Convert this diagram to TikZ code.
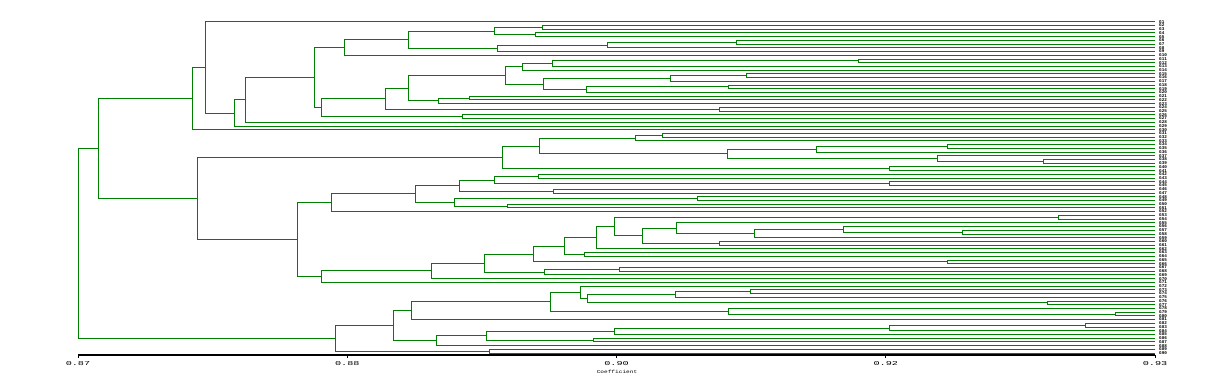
\documentclass[tikz,border=0pt]{standalone}
\usepackage{fontspec}
\setmonofont{Liberation Mono}
\usetikzlibrary{calc}
\definecolor{treegreen}{RGB}{0,128,0}

\tikzset{
  branch/.style={draw=treegreen, line width=0.8pt},
  axisline/.style={draw=black, line width=1.1pt},
  leaflabel/.style={anchor=west, inner sep=0pt, font=\ttfamily\bfseries\fontsize{4.3}{4.3}\selectfont},
  ticklabel/.style={anchor=north, inner sep=0pt, xscale=1.7, font=\ttfamily\fontsize{6}{6}\selectfont}
}

% join two clusters at level #2 (pixel x), name the new cluster #1
\newcommand{\clus}[4]{%
  \path let \p1=(#3), \p2=(#4) in (#2pt, {0.5*\y1+0.5*\y2}) coordinate (#1);
  \draw[branch] (#3) -- (#3 -| #1) -- (#4 -| #1) -- (#4);
}

\begin{document}
\begin{tikzpicture}[x=1pt, y=-1pt]
  \useasboundingbox (0,0) rectangle (1205,385);

  % leaves
  \foreach \i in {0,...,89} {
    \coordinate (l\i) at (1155, 21.7+3.723*\i);
    \node[leaflabel] (n\i) at (1159, 21.7+3.723*\i) {G\the\numexpr\i+1\relax};
  }

  % upper group
  \clus{a1}{542.5}{l1}{l2}
  \clus{a2}{535.5}{l3}{l4}
  \clus{a3}{494.5}{a1}{a2}
  \clus{a4}{736}{l5}{l6}
  \clus{a5}{607}{a4}{l7}
  \clus{a6}{497.5}{a5}{l8}
  \clus{a7}{408.3}{a3}{a6}
  \clus{a8}{344.3}{a7}{l9}
  \clus{a9}{858.3}{l10}{l11}
  \clus{a10}{552.3}{a9}{l12}
  \clus{a11}{522.3}{a10}{l13}
  \clus{a12}{746.7}{l14}{l15}
  \clus{a13}{670.3}{a12}{l16}
  \clus{a14}{728.3}{l17}{l18}
  \clus{a15}{586.7}{a14}{l19}
  \clus{a16}{543.3}{a13}{a15}
  \clus{a17}{505.3}{a11}{a16}
  \clus{a18}{469.3}{l20}{l21}
  \clus{a19}{438.3}{a18}{l22}
  \clus{a20}{408.3}{a17}{a19}
  \clus{a21}{719.5}{l23}{l24}
  \clus{a22}{385.3}{a20}{a21}
  \clus{a23}{462.3}{l25}{l26}
  \clus{a24}{321.3}{a22}{a23}
  \clus{a25}{314}{a8}{a24}
  \clus{a26}{245.3}{a25}{l27}
  \clus{a27}{234}{a26}{l28}
  \clus{a28}{205.3}{l0}{a27}
  \clus{a29}{192.3}{a28}{l29}

  % middle group
  \clus{b1}{662.3}{l30}{l31}
  \clus{b2}{635.3}{b1}{l32}
  \clus{b3}{947.7}{l33}{l34}
  \clus{b4}{816.3}{b3}{l35}
  \clus{b5}{1043.3}{l37}{l38}
  \clus{b6}{937.7}{l36}{b5}
  \clus{b7}{727.7}{b4}{b6}
  \clus{b8}{539.3}{b2}{b7}
  \clus{b9}{889.7}{l39}{l40}
  \clus{b10}{502.3}{b8}{b9}
  \clus{b11}{538.3}{l41}{l42}
  \clus{b12}{889.7}{l43}{l44}
  \clus{b13}{494.7}{b11}{b12}
  \clus{b14}{553.3}{l45}{l46}
  \clus{b15}{459.3}{b13}{b14}
  \clus{b16}{697.7}{l47}{l48}
  \clus{b17}{507.7}{l49}{l50}
  \clus{b18}{454.3}{b16}{b17}
  \clus{b19}{415.3}{b15}{b18}
  \clus{b20}{331.7}{b19}{l51}
  \clus{b21}{1058.7}{l52}{l53}
  \clus{b22}{962.3}{l56}{l57}
  \clus{b23}{843.7}{l55}{b22}
  \clus{b24}{754.7}{b23}{l58}
  \clus{b25}{676}{l54}{b24}
  \clus{b26}{719.7}{l59}{l60}
  \clus{b27}{642.5}{b25}{b26}
  \clus{b28}{614.3}{b21}{b27}
  \clus{b29}{596.3}{b28}{l61}
  \clus{b30}{584.3}{l62}{l63}
  \clus{b31}{564.3}{b29}{b30}
  \clus{b32}{947.7}{l64}{l65}
  \clus{b33}{533.3}{b31}{b32}
  \clus{b34}{619.3}{l66}{l67}
  \clus{b35}{544.3}{b34}{l68}
  \clus{b36}{484.3}{b33}{b35}
  \clus{b37}{431.7}{b36}{l69}
  \clus{b38}{321.3}{b37}{l70}
  \clus{b39}{297.3}{b20}{b38}
  \clus{b40}{197.3}{b10}{b39}

  % lower group
  \clus{c1}{750}{l72}{l73}
  \clus{c2}{675.7}{c1}{l74}
  \clus{c3}{1047.7}{l75}{l76}
  \clus{c4}{587.3}{c2}{c3}
  \clus{c5}{580.7}{l71}{c4}
  \clus{c6}{1115}{l78}{l79}
  \clus{c7}{728.7}{l77}{c6}
  \clus{c8}{550.3}{c5}{c7}
  \clus{c9}{411.7}{c8}{l80}
  \clus{c10}{1085.3}{l81}{l82}
  \clus{c11}{889.7}{c10}{l83}
  \clus{c12}{614.3}{c11}{l84}
  \clus{c13}{593.7}{l85}{l86}
  \clus{c14}{486.7}{c12}{c13}
  \clus{c15}{436.7}{c14}{l87}
  \clus{c16}{393.7}{c9}{c15}
  \clus{c17}{489.3}{l88}{l89}
  \clus{c18}{335.3}{c16}{c17}

  % top joins
  \clus{top}{98}{a29}{b40}
  \clus{root}{78}{top}{c18}

  % coefficient axis
  \coordinate (ax0) at (78,355);
  \coordinate (ax1) at (1155,355);
  \draw[axisline] (ax0) -- (ax1);
  \foreach \x/\lab [count=\k] in {78/0.87, 347.3/0.88, 616.5/0.90, 885.8/0.92, 1155/0.93} {
    \draw[axisline, line width=0.8pt] (\x,355) -- (\x,358);
    \node[ticklabel] (tk\k) at (\x,361) {\lab};
  }
  \node[ticklabel, xscale=0.8, font=\ttfamily\fontsize{4.5}{4.5}\selectfont] (coef) at (617,370) {Coefficient};
\end{tikzpicture}
\end{document}
